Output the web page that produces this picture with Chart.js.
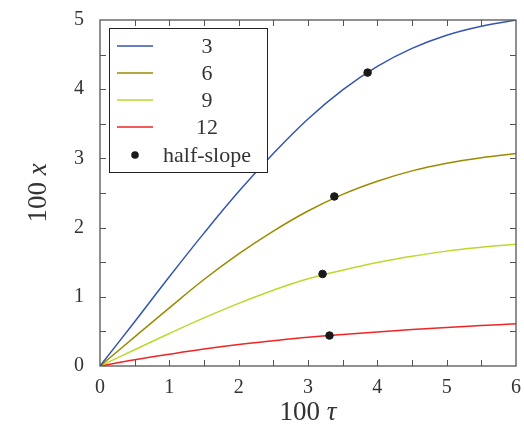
<!DOCTYPE html>
<html>
<head>
<meta charset="utf-8">
<script src="https://cdn.jsdelivr.net/npm/chart.js@4/dist/chart.umd.min.js"></script>
<style>
  body { margin: 0; background: #fff; }
  #wrap { width: 524px; height: 433px; }
</style>
</head>
<body>
<div id="wrap"><canvas id="grafica"></canvas></div>
<script>
// 100 tau sample points
const tau = [0, 0.5, 1, 1.5, 2, 2.5, 3, 3.5, 4, 4.5, 5, 5.5, 6];
// 100 x for each series
const x3  = [0, 0.64, 1.29, 1.92, 2.52, 3.07, 3.57, 3.99, 4.33, 4.59, 4.78, 4.91, 5.00];
const x6  = [0, 0.42, 0.84, 1.25, 1.62, 1.95, 2.24, 2.48, 2.67, 2.82, 2.93, 3.01, 3.07];
const x9  = [0, 0.235, 0.47, 0.695, 0.905, 1.095, 1.26, 1.385, 1.495, 1.585, 1.66, 1.715, 1.76];
const x12 = [0, 0.09, 0.17, 0.245, 0.31, 0.365, 0.415, 0.455, 0.492, 0.526, 0.557, 0.585, 0.61];
// half-slope points
const halfTau = [3.86, 3.38, 3.21, 3.31];
const halfX   = [4.24, 2.45, 1.33, 0.44];

const labels = ['3', '6', '9', '12', 'half-slope'];
const colores = ['#3455b0', '#998c00', '#bfd72c', '#f02626', '#1a1a1a'];

const serif = "'Liberation Serif', 'DejaVu Serif', serif";
const txt = '#333';

const pts = ys => tau.map((t, i) => ({ x: t, y: ys[i] }));

// inward ticks on all sides + frame + axis titles + boxed legend
const marco = {
  id: 'marco',
  afterDraw(chart) {
    const { ctx, chartArea: a, scales } = chart;
    const sx = scales.x, sy = scales.y;
    ctx.save();
    ctx.strokeStyle = '#555';
    ctx.lineWidth = 1;
    for (let v = 0.5; v < 6; v += 0.5) {
      const p = Math.round(sx.getPixelForValue(v)) + 0.5;
      ctx.beginPath();
      ctx.moveTo(p, a.bottom); ctx.lineTo(p, a.bottom - 6);
      ctx.moveTo(p, a.top); ctx.lineTo(p, a.top + 6);
      ctx.stroke();
    }
    for (let v = 0.5; v < 5; v += 0.5) {
      const p = Math.round(sy.getPixelForValue(v)) + 0.5;
      ctx.beginPath();
      ctx.moveTo(a.left, p); ctx.lineTo(a.left + 6, p);
      ctx.moveTo(a.right, p); ctx.lineTo(a.right - 6, p);
      ctx.stroke();
    }
    ctx.lineWidth = 1.3;
    ctx.strokeRect(a.left, a.top, a.right - a.left, a.bottom - a.top);

    // axis titles
    ctx.fillStyle = txt;
    ctx.textBaseline = 'alphabetic';
    const titulo = (cx, cy, num, sym) => {
      ctx.font = `27px ${serif}`;
      const w1 = ctx.measureText(num).width;
      ctx.font = `italic 27px ${serif}`;
      const w2 = ctx.measureText(sym).width;
      const x0 = cx - (w1 + w2) / 2;
      ctx.font = `27px ${serif}`;
      ctx.textAlign = 'left';
      ctx.fillText(num, x0, cy);
      ctx.font = `italic 27px ${serif}`;
      ctx.fillText(sym, x0 + w1, cy);
    };
    titulo((a.left + a.right) / 2, 420, '100 ', 'τ');
    ctx.save();
    ctx.translate(46, (a.top + a.bottom) / 2);
    ctx.rotate(-Math.PI / 2);
    titulo(0, 0, '100 ', 'x');
    ctx.restore();

    // legend
    const bx = 109, by = 28, bw = 158, bh = 144;
    ctx.fillStyle = '#fff';
    ctx.fillRect(bx, by, bw, bh);
    ctx.strokeStyle = '#222';
    ctx.lineWidth = 1;
    ctx.strokeRect(bx + 0.5, by + 0.5, bw, bh);
    const rows = [46, 73, 100, 127, 155];
    ctx.font = `22px ${serif}`;
    ctx.textAlign = 'center';
    ctx.textBaseline = 'middle';
    chart.data.datasets.forEach((ds, i) => {
      const y = rows[i];
      if (ds.type === 'scatter') {
        ctx.fillStyle = ds.backgroundColor;
        ctx.beginPath();
        ctx.arc(135, y, 3.8, 0, Math.PI * 2);
        ctx.fill();
      } else {
        ctx.strokeStyle = ds.borderColor;
        ctx.lineWidth = 1.5;
        ctx.beginPath();
        ctx.moveTo(117, y); ctx.lineTo(153, y);
        ctx.stroke();
      }
      ctx.fillStyle = txt;
      ctx.fillText(ds.label, 207, y + 1);
    });
    ctx.restore();
  }
};

const linea = (i, ys) => ({
  type: 'line',
  label: labels[i],
  data: pts(ys),
  borderColor: colores[i],
  borderWidth: 1.5,
  pointRadius: 0,
  tension: 0.4,
  fill: false,
  order: 1
});

new Chart(document.getElementById('grafica').getContext('2d'), {
  type: 'line',
  data: {
    datasets: [
      linea(0, x3), linea(1, x6), linea(2, x9), linea(3, x12),
      {
        type: 'scatter',
        label: labels[4],
        data: halfTau.map((t, i) => ({ x: t, y: halfX[i] })),
        backgroundColor: colores[4],
        borderColor: colores[4],
        pointRadius: 3.8,
        order: 0
      }
    ]
  },
  options: {
    responsive: true,
    maintainAspectRatio: false,
    animation: false,
    layout: { padding: { top: 20, right: 8, left: 0, bottom: 0 } },
    plugins: { legend: { display: false }, tooltip: { enabled: false } },
    scales: {
      x: {
        type: 'linear', min: 0, max: 6,
        grid: { display: false },
        border: { display: false },
        ticks: { stepSize: 1, padding: 2, color: txt, font: { family: serif, size: 20 } },
        afterFit: s => { s.height = 67; }
      },
      y: {
        min: 0, max: 5,
        grid: { display: false },
        border: { display: false },
        ticks: { stepSize: 1, padding: 8, color: txt, font: { family: serif, size: 20 } },
        afterFit: s => { s.width = 100; }
      }
    }
  },
  plugins: [marco]
});
</script>
</body>
</html>
